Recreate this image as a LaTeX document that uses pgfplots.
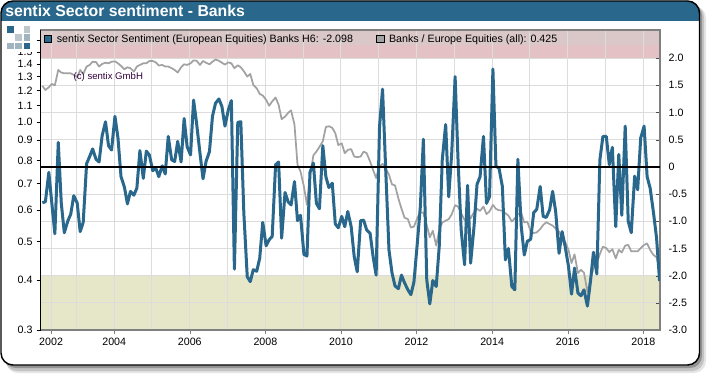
\documentclass[border=0pt]{standalone}
\usepackage{pgfplots}
\usepackage{fontspec}
\setmainfont{Liberation Sans}
\pgfplotsset{compat=1.18}
\definecolor{sblue}{HTML}{29688C}
\definecolor{sgray}{HTML}{A2A2A2}
\definecolor{spink}{HTML}{E3C1C4}
\definecolor{sstrip}{HTML}{DAC7C8}
\definecolor{solive}{HTML}{E6E6C9}
\definecolor{sgrid}{HTML}{DCDCDC}
\definecolor{saxis}{HTML}{808080}
\definecolor{slogoa}{HTML}{9FB4BF}
\definecolor{slogob}{HTML}{BCC6CB}
\pgfplotsset{frameaxis/.style={
  at={(30.375pt,34.5pt)},anchor=south west,
  scale only axis,width=464.6pt,height=225pt,
  xmin=2002.05,xmax=2018.44,
  clip=true}}
\begin{document}
\begin{tikzpicture}
\path[use as bounding box] (0,0) rectangle (532.5pt,282pt);
\begin{scope}[shift={(0,282pt)},x=0.75pt,y=-0.75pt]
  \fill[black,opacity=.10,rounded corners=9pt] (6,6) rectangle (706,373);
  \fill[black,opacity=.15,rounded corners=9pt] (5,5) rectangle (704,371);
  \fill[black,opacity=.25,rounded corners=9pt] (4,4) rectangle (702,368);
  \fill[white,rounded corners=9pt] (1,1) rectangle (699.5,365);
  \begin{scope}
    \clip[rounded corners=9pt] (1,1) rectangle (699.5,365);
    \fill[sblue] (0,0) rectangle (700,21);
  \end{scope}
  \draw[black,line width=1.1pt,rounded corners=9pt] (1,1) rectangle (699.5,365);
  \node[anchor=west,text=white,font=\bfseries\fontsize{11.85pt}{14pt}\selectfont,inner sep=0pt] at (5,11) {sentix Sector sentiment - Banks};
\end{scope}

% bands, grid, right-hand scale, time axis
\begin{axis}[frameaxis,
  ymin=-3,ymax=2.518,
  axis on top=true,
  axis line style={saxis,line width=.8pt},
  grid=both,
  grid style={sgrid,line width=.75pt},
  minor grid style={sgrid,line width=.75pt},
  major tick length=3pt,minor tick length=0pt,
  tick align=outside,
  xtick={2002.33,2004,2006,2008,2010,2012,2014,2016,2018},
  xticklabels={2002,2004,2006,2008,2010,2012,2014,2016,2018},
  minor xtick={2003,2005,2007,2009,2011,2013,2015,2017},
  xtick pos=bottom,
  ytick={-3,-2.5,-2,-1.5,-1,-0.5,0,0.5,1,1.5,2},
  yticklabels={-3.0,-2.5,-2.0,-1.5,-1.0,-0.5,0,0.5,1.0,1.5,2.0},
  ytick pos=right,yticklabel pos=right,
  ytick style={black!70,xshift=-3pt},
  xtick style={saxis},
  tick label style={font=\fontsize{8pt}{10pt}\selectfont},
  xticklabel style={yshift=0.5pt},
]
\addplot[fill=spink,draw=none] coordinates {(2002.05,2)(2018.44,2)(2018.44,2.243)(2002.05,2.243)} --cycle;
\addplot[fill=sstrip,draw=none] coordinates {(2002.05,2.243)(2018.44,2.243)(2018.44,2.518)(2002.05,2.518)} --cycle;
\addplot[fill=solive,draw=none] coordinates {(2002.05,-3)(2018.44,-3)(2018.44,-2)(2002.05,-2)} --cycle;
\end{axis}

% Banks / Europe Equities on the left-hand log scale
\begin{axis}[frameaxis,
  ymode=log,ymin=0.3,ymax=1.704,
  axis x line=none,
  axis y line*=left,
  axis line style={black,line width=.9pt,-},
  major tick length=3pt,minor tick length=0pt,
  tick align=outside,
  ytick={0.3,0.4,0.5,0.6,0.7,0.8,0.9,1.0,1.1,1.2,1.3,1.4,1.5,1.6},
  yticklabels={0.3,0.4,0.5,0.6,0.7,0.8,0.9,1.0,1.1,1.2,1.3,1.4,1.5,1.6},
  ytick style={black,line width=.6pt},
  log basis y=10,
  tick label style={font=\fontsize{8pt}{10pt}\selectfont},
  yticklabel style={xshift=0.5pt},
]
\addplot[sgray,line width=1.3pt,line join=round] coordinates {
(2002.10,1.233)(2002.18,1.204)(2002.27,1.223)(2002.35,1.247)(2002.43,1.237)(2002.52,1.352)(2002.60,1.332)(2002.68,1.326)(2002.77,1.326)(2002.85,1.326)(2002.93,1.314)(2003.02,1.296)
(2003.10,1.352)(2003.18,1.321)(2003.27,1.379)(2003.35,1.392)(2003.43,1.418)(2003.52,1.415)(2003.60,1.379)(2003.68,1.400)(2003.77,1.410)(2003.85,1.405)(2003.93,1.418)(2004.02,1.421)
(2004.10,1.405)(2004.18,1.384)(2004.27,1.358)(2004.35,1.373)(2004.43,1.366)(2004.52,1.339)(2004.60,1.379)(2004.68,1.392)(2004.77,1.405)(2004.85,1.405)(2004.93,1.424)(2005.02,1.424)
(2005.10,1.413)(2005.18,1.387)(2005.27,1.392)(2005.35,1.379)(2005.43,1.379)(2005.52,1.366)(2005.60,1.352)(2005.68,1.332)(2005.77,1.373)(2005.85,1.397)(2005.93,1.392)(2006.02,1.405)
(2006.10,1.429)(2006.18,1.426)(2006.27,1.392)(2006.35,1.424)(2006.43,1.410)(2006.52,1.397)(2006.60,1.418)(2006.68,1.437)(2006.77,1.426)(2006.85,1.410)(2006.93,1.395)(2007.02,1.413)
(2007.10,1.405)(2007.18,1.366)(2007.27,1.389)(2007.35,1.373)(2007.43,1.342)(2007.52,1.301)(2007.60,1.321)(2007.68,1.240)(2007.77,1.216)(2007.85,1.177)(2007.93,1.166)(2008.02,1.137)
(2008.10,1.099)(2008.18,1.127)(2008.27,1.153)(2008.35,1.105)(2008.43,1.017)(2008.52,1.032)(2008.60,1.054)(2008.68,1.070)(2008.77,0.985)(2008.85,0.781)(2008.93,0.751)(2009.02,0.688)
(2009.10,0.619)(2009.18,0.730)(2009.27,0.825)(2009.35,0.843)(2009.43,0.866)(2009.52,0.895)(2009.60,0.972)(2009.68,0.976)(2009.77,0.967)(2009.85,0.937)(2009.93,0.875)(2010.02,0.884)
(2010.10,0.835)(2010.18,0.851)(2010.27,0.855)(2010.35,0.819)(2010.43,0.816)(2010.52,0.819)(2010.60,0.843)(2010.68,0.835)(2010.77,0.796)(2010.85,0.758)(2010.93,0.723)(2011.02,0.772)
(2011.10,0.785)(2011.18,0.765)(2011.27,0.737)(2011.35,0.697)(2011.43,0.693)(2011.52,0.642)(2011.60,0.606)(2011.68,0.575)(2011.77,0.570)(2011.85,0.543)(2011.93,0.546)(2012.02,0.573)
(2012.10,0.593)(2012.18,0.592)(2012.27,0.551)(2012.35,0.513)(2012.43,0.533)(2012.52,0.489)(2012.60,0.535)(2012.68,0.559)(2012.77,0.565)(2012.85,0.570)(2012.93,0.586)(2013.02,0.618)
(2013.10,0.613)(2013.18,0.590)(2013.27,0.567)(2013.35,0.567)(2013.43,0.573)(2013.52,0.593)(2013.60,0.605)(2013.68,0.598)(2013.77,0.613)(2013.85,0.587)(2013.93,0.596)(2014.02,0.619)
(2014.10,0.605)(2014.18,0.600)(2014.27,0.599)(2014.35,0.590)(2014.43,0.582)(2014.52,0.562)(2014.60,0.573)(2014.68,0.587)(2014.77,0.590)(2014.85,0.559)(2014.93,0.562)(2015.02,0.530)
(2015.10,0.526)(2015.18,0.528)(2015.27,0.538)(2015.35,0.551)(2015.43,0.560)(2015.52,0.554)(2015.60,0.549)(2015.68,0.540)(2015.77,0.530)(2015.85,0.510)(2015.93,0.500)(2016.02,0.477)
(2016.10,0.442)(2016.18,0.465)(2016.27,0.417)(2016.35,0.425)(2016.43,0.418)(2016.52,0.374)(2016.60,0.401)(2016.68,0.429)(2016.77,0.442)(2016.85,0.466)(2016.93,0.486)(2017.02,0.482)
(2017.10,0.471)(2017.18,0.479)(2017.27,0.454)(2017.35,0.477)(2017.43,0.470)(2017.52,0.489)(2017.60,0.491)(2017.68,0.473)(2017.77,0.473)(2017.85,0.473)(2017.93,0.482)(2018.02,0.491)
(2018.10,0.495)(2018.18,0.477)(2018.27,0.463)(2018.35,0.457)(2018.43,0.425)
};
\end{axis}

% sector sentiment on the right-hand scale
\begin{axis}[frameaxis,
  ymin=-3,ymax=2.518,
  hide axis,
  legend columns=2,
  legend cell align=left,
  legend style={at={(0.003,0.9985)},anchor=north west,draw=none,fill=none,
    font=\fontsize{8pt}{10pt}\selectfont,inner sep=1pt,outer sep=0pt,
    /tikz/every odd column/.append style={column sep=1.5pt},
    /tikz/every even column/.append style={column sep=15.2pt},
    row sep=0pt},
  legend image code/.code={\draw[#1,draw=black,line width=.65pt] (0cm,-0.095cm) rectangle (0.2cm,0.095cm);},
]
\addplot[sblue,line width=2.25pt,line join=round,forget plot] coordinates {
(2002.10,-0.66)(2002.18,-0.64)(2002.27,-0.10)(2002.35,-0.67)(2002.43,-1.23)(2002.52,0.45)(2002.60,-0.67)(2002.68,-1.21)(2002.77,-1.00)(2002.85,-0.87)(2002.93,-0.53)(2003.02,-0.66)
(2003.10,-1.19)(2003.18,-1.02)(2003.27,0.06)(2003.35,0.19)(2003.43,0.33)(2003.52,0.14)(2003.60,0.09)(2003.68,0.57)(2003.77,0.83)(2003.85,0.39)(2003.93,0.31)(2004.02,0.93)
(2004.10,0.53)(2004.18,-0.18)(2004.27,-0.37)(2004.35,-0.68)(2004.43,-0.45)(2004.52,-0.52)(2004.60,-0.39)(2004.68,0.30)(2004.77,-0.21)(2004.85,0.29)(2004.93,0.22)(2005.02,-0.07)
(2005.10,-0.02)(2005.18,-0.18)(2005.27,0.02)(2005.35,-0.13)(2005.43,0.56)(2005.52,0.13)(2005.60,0.10)(2005.68,0.47)(2005.77,0.09)(2005.85,0.89)(2005.93,0.37)(2006.02,0.22)
(2006.10,1.23)(2006.18,0.80)(2006.27,0.25)(2006.35,-0.22)(2006.43,0.10)(2006.52,0.28)(2006.60,0.93)(2006.68,1.17)(2006.77,1.25)(2006.85,1.11)(2006.93,0.75)(2007.02,1.05)
(2007.10,1.22)(2007.18,-1.88)(2007.27,0.82)(2007.35,0.83)(2007.43,-0.85)(2007.52,-2.02)(2007.60,-2.11)(2007.68,-1.89)(2007.77,-1.92)(2007.85,-1.68)(2007.93,-1.02)(2008.02,-1.45)
(2008.10,-1.34)(2008.18,-1.28)(2008.27,0.04)(2008.35,0.09)(2008.43,-1.31)(2008.52,-0.47)(2008.60,-0.64)(2008.68,-0.70)(2008.77,-0.27)(2008.85,-0.99)(2008.93,-0.89)(2009.02,-1.61)
(2009.10,-1.64)(2009.18,-0.10)(2009.27,0.07)(2009.35,-0.67)(2009.43,-0.77)(2009.52,0.39)(2009.60,-0.18)(2009.68,-0.38)(2009.77,-0.30)(2009.85,-1.05)(2009.93,-1.12)(2010.02,-0.91)
(2010.10,-1.10)(2010.18,-0.82)(2010.27,-1.10)(2010.35,-1.65)(2010.43,-1.93)(2010.52,-0.99)(2010.60,-0.98)(2010.68,-1.16)(2010.77,-1.22)(2010.85,-1.65)(2010.93,-1.99)(2011.02,0.74)
(2011.10,1.43)(2011.18,0.01)(2011.27,-1.53)(2011.35,-1.95)(2011.43,-2.19)(2011.52,-2.24)(2011.60,-1.99)(2011.68,-2.13)(2011.77,-2.26)(2011.85,-2.35)(2011.93,-2.12)(2012.02,-1.40)
(2012.10,-0.73)(2012.18,0.51)(2012.27,-2.08)(2012.35,-2.52)(2012.43,-2.09)(2012.52,-2.20)(2012.60,-1.46)(2012.68,0.13)(2012.77,0.78)(2012.85,-0.55)(2012.93,0.25)(2013.02,1.66)
(2013.10,0.07)(2013.18,-1.16)(2013.27,-1.80)(2013.35,-0.34)(2013.43,-1.77)(2013.52,-1.10)(2013.60,-0.32)(2013.68,-0.18)(2013.77,0.56)(2013.85,-0.67)(2013.93,-0.55)(2014.02,1.80)
(2014.10,0.01)(2014.18,-0.02)(2014.27,-0.36)(2014.35,-1.71)(2014.43,-1.50)(2014.52,-2.20)(2014.60,-2.26)(2014.68,0.14)(2014.77,-1.10)(2014.85,-1.62)(2014.93,-1.37)(2015.02,-1.33)
(2015.10,-0.84)(2015.18,-0.78)(2015.27,-0.36)(2015.35,-0.91)(2015.43,-0.93)(2015.52,-0.79)(2015.60,-0.45)(2015.68,-0.82)(2015.77,-1.59)(2015.85,-1.19)(2015.93,-1.46)(2016.02,-1.83)
(2016.10,-2.34)(2016.18,-1.86)(2016.27,-2.32)(2016.35,-2.37)(2016.43,-2.26)(2016.52,-2.56)(2016.60,-2.11)(2016.68,-1.57)(2016.77,-1.97)(2016.85,0.13)(2016.93,0.56)(2017.02,0.56)
(2017.10,0.04)(2017.18,0.36)(2017.27,-1.10)(2017.35,0.23)(2017.43,-0.89)(2017.52,0.75)(2017.60,-1.00)(2017.68,-1.21)(2017.77,-0.17)(2017.85,-0.42)(2017.93,0.53)(2018.02,0.75)
(2018.10,-0.18)(2018.18,-0.39)(2018.27,-0.85)(2018.35,-1.31)(2018.43,-2.098)
};
\addplot[black,line width=1.5pt,forget plot] coordinates {(2002.05,0)(2018.44,0)};
\addlegendimage{fill=sblue}
\addlegendentry{sentix Sector Sentiment (European Equities) Banks H6: -2.098}
\addlegendimage{fill=sgray}
\addlegendentry{Banks / Europe Equities (all): 0.425}
\node[anchor=west,text={rgb,255:red,50;green,0;blue,60},font=\fontsize{7.2pt}{9pt}\selectfont,inner sep=0pt] at (axis cs:2002.92,1.66) {(c) sentix GmbH};
\end{axis}

% logo
\begin{scope}[shift={(0,282pt)},x=0.75pt,y=-0.75pt]
  \fill[white] (5,22.5) rectangle (35,51.5);
  \fill[sblue] (7,26) rectangle (13.5,33);
  \fill[slogob] (24,26) rectangle (30,33);
  \fill[slogob] (15.3,34) rectangle (22,41);
  \fill[slogoa] (24,34) rectangle (30,41);
  \fill[slogoa] (7,42.5) rectangle (13.5,49);
  \fill[slogoa] (15.3,42.5) rectangle (22,49);
  \fill[sblue] (24,42.5) rectangle (30,49);
\end{scope}
\end{tikzpicture}
\end{document}
